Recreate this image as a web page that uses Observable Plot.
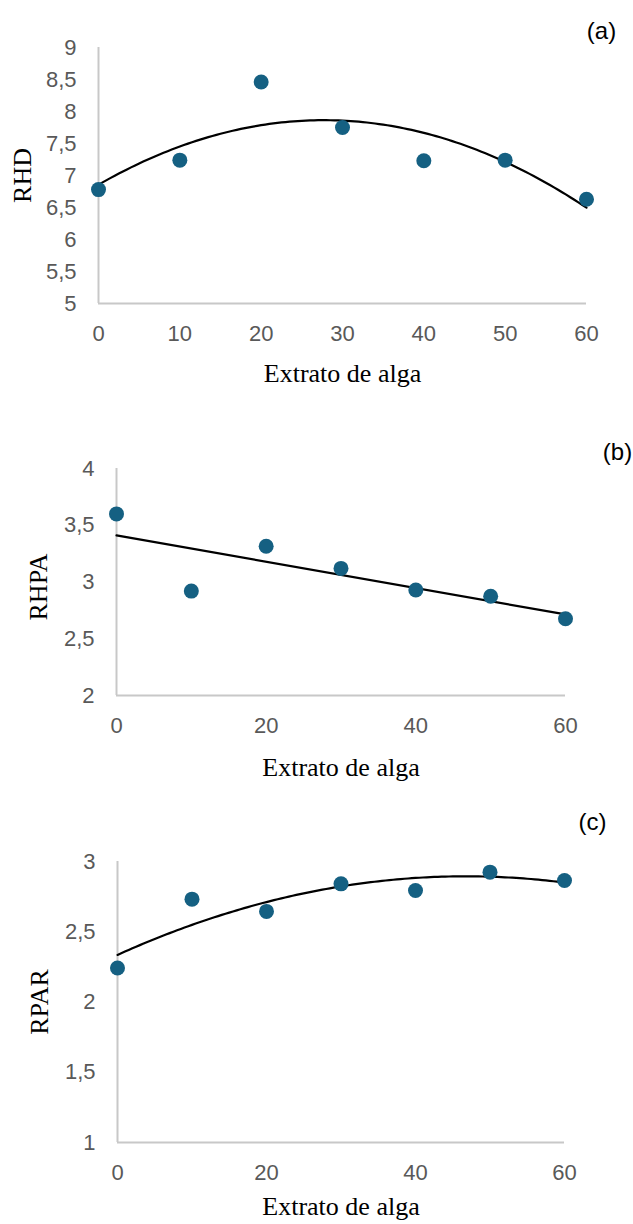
<!DOCTYPE html>
<html><head><meta charset="utf-8">
<script src="https://cdn.jsdelivr.net/npm/d3@7"></script>
<script src="https://cdn.jsdelivr.net/npm/@observablehq/plot@0.6"></script>
<style>
body{margin:0;background:#fff;}
#wrap{width:633px;}
#wrap svg{display:block;}
</style></head><body><div id="wrap"></div>
<script>
// Data
const extrato = [0, 10, 20, 30, 40, 50, 60];
const rhd  = [6.78, 7.24, 8.46, 7.75, 7.23, 7.24, 6.63];
const rhpa = [3.60, 2.92, 3.315, 3.12, 2.93, 2.874, 2.676];
const rpar = [2.242, 2.732, 2.645, 2.841, 2.794, 2.924, 2.865];

const yTicksA = [5, 5.5, 6, 6.5, 7, 7.5, 8, 8.5, 9];
const yTicksB = [2, 2.5, 3, 3.5, 4];
const yTicksC = [1, 1.5, 2, 2.5, 3];
const xTicksA = [0, 10, 20, 30, 40, 50, 60];
const xTicksBC = [0, 20, 40, 60];
const xTitle = "Extrato de alga";

const fmt = d => String(d).replace(".", ",");
const serif = "'Liberation Serif', 'Times New Roman', serif";
const sans = "'Liberation Sans', Arial, sans-serif";

// Quadratic least-squares trend (like a spreadsheet polynomial trendline)
function quadFit(xs, ys) {
  let S = [0,0,0,0,0], T = [0,0,0];
  xs.forEach((x, i) => {
    for (let k = 0; k < 5; k++) S[k] += x ** k;
    for (let k = 0; k < 3; k++) T[k] += ys[i] * x ** k;
  });
  const A = [[S[0],S[1],S[2],T[0]],[S[1],S[2],S[3],T[1]],[S[2],S[3],S[4],T[2]]];
  for (let i = 0; i < 3; i++) {
    for (let j = i + 1; j < 3; j++) {
      const f = A[j][i] / A[i][i];
      for (let k = i; k < 4; k++) A[j][k] -= f * A[i][k];
    }
  }
  const c = [0,0,0];
  for (let i = 2; i >= 0; i--) {
    let s = A[i][3];
    for (let k = i + 1; k < 3; k++) s -= A[i][k] * c[k];
    c[i] = s / A[i][i];
  }
  const x0 = d3.min(xs), x1 = d3.max(xs);
  return d3.range(x0, x1 + 0.001, 0.5).map(x => ({x, y: c[0] + c[1]*x + c[2]*x*x}));
}

function panel(o) {
  const data = extrato.map((x, i) => ({x, y: o.values[i]}));
  const trend = o.linear
    ? Plot.linearRegressionY(data, {x: "x", y: "y", stroke: "black", strokeWidth: 2.2, ci: 0})
    : Plot.line(quadFit(extrato, o.values), {x: "x", y: "y", stroke: "black", strokeWidth: 2.2});
  return Plot.plot({
    width: 633,
    height: o.height,
    marginTop: o.m[0], marginRight: o.m[1], marginBottom: o.m[2], marginLeft: o.m[3],
    style: {fontSize: "22px", fontFamily: sans, color: "#595959", background: "white"},
    x: {domain: [0, 60]},
    y: {domain: [o.yTicks[0], o.yTicks[o.yTicks.length - 1]]},
    marks: [
      Plot.ruleX([0], {stroke: "#c8c8c8", strokeWidth: 2}),
      Plot.ruleY([o.yTicks[0]], {stroke: "#c8c8c8", strokeWidth: 2}),
      Plot.axisY(o.yTicks, {tickSize: 0, tickPadding: 22, tickFormat: fmt, label: null, fontSize: 22}),
      Plot.axisX(o.xTicks, {tickSize: 0, tickPadding: 22, tickFormat: fmt, label: null, fontSize: 22}),
      trend,
      Plot.dot(data, {x: "x", y: "y", r: 7.5, fill: "#156082", stroke: null}),
      Plot.text([xTitle], {frameAnchor: "bottom", dy: o.titleDy, fontFamily: serif, fontSize: 26, fill: "black", lineAnchor: "middle"}),
      Plot.text([o.yLabel], {frameAnchor: "left", dx: o.ylab[0], dy: o.ylab[1], rotate: -90, fontFamily: serif, fontSize: 26, fill: "black", textAnchor: "middle", lineAnchor: "middle"}),
      Plot.text([o.tag], {frameAnchor: "top-right", dx: o.tagPos[0], dy: o.tagPos[1], fontFamily: sans, fontSize: 24, fill: "black", textAnchor: "middle", lineAnchor: "middle"})
    ]
  });
}

const wrap = document.getElementById("wrap");
wrap.append(panel({values: rhd, yTicks: yTicksA, xTicks: xTicksA, yLabel: "RHD", tag: "(a)",
  height: 400, m: [47, 47, 97, 98], titleDy: 70, ylab: [-76, 0], tagPos: [15, -16]}));
wrap.append(panel({values: rhpa, yTicks: yTicksB, xTicks: xTicksBC, yLabel: "RHPA", tag: "(b)", linear: true,
  height: 400, m: [68, 68, 105, 116], titleDy: 72, ylab: [-78, 5], tagPos: [52, -16]}));
wrap.append(panel({values: rpar, yTicks: yTicksC, xTicks: xTicksBC, yLabel: "RPAR", tag: "(c)",
  height: 424, m: [61, 69, 82, 117], titleDy: 64, ylab: [-78, 0], tagPos: [28, -39]}));
</script></body></html>
